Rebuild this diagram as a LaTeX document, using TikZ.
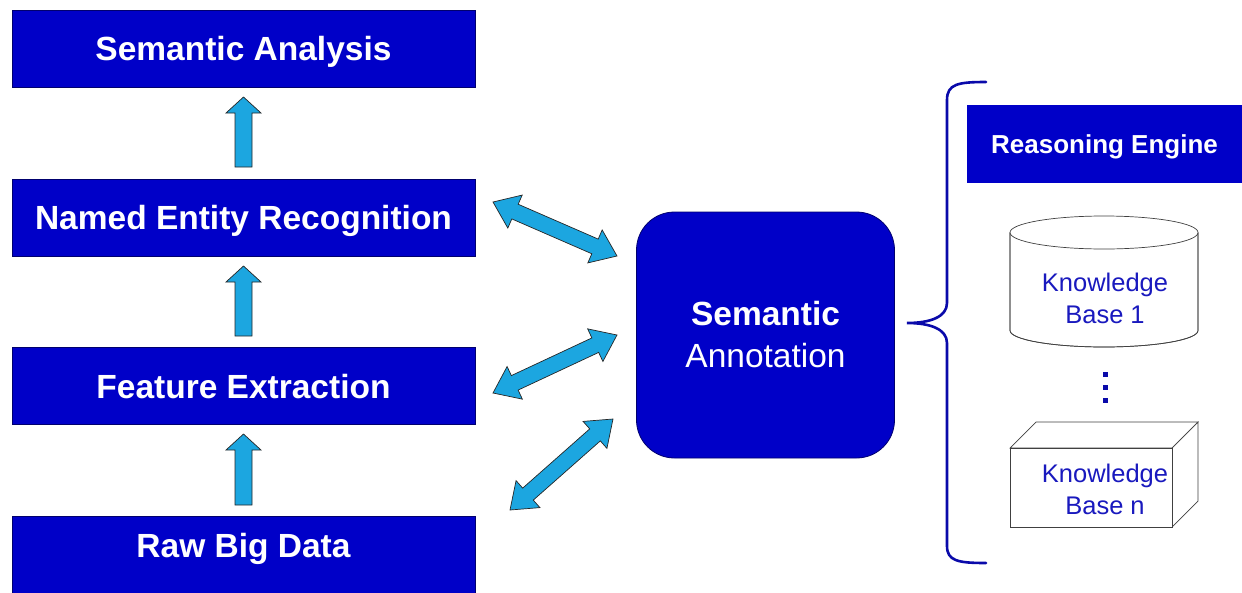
\documentclass[tikz,border=0pt]{standalone}
\usepackage{fontspec}
\setmainfont{Liberation Sans}
\usetikzlibrary{calc}
\definecolor{boxblue}{RGB}{0,0,200}
\definecolor{bracebl}{RGB}{10,10,170}
\definecolor{arrowblue}{RGB}{28,166,224}
\definecolor{kbtext}{RGB}{25,25,190}
\tikzset{
  stage/.style={draw=boxblue!55!black, line width=0.8pt, fill=boxblue, text=white,
    minimum width=463pt, minimum height=77pt, inner sep=0pt, text depth=0pt,
    font=\fontsize{33.5}{38}\selectfont\bfseries},
  uparr/.style={draw=black!85, line width=0.7pt, fill=arrowblue, line join=miter,
    to path={
      -- ($(\tikztostart)!8.5pt!90:(\tikztotarget)$)
      -- ($(\tikztotarget)!16pt!(\tikztostart)!8.5pt!-90:(\tikztostart)$)
      -- ($(\tikztotarget)!16pt!(\tikztostart)!17.5pt!-90:(\tikztostart)$)
      -- (\tikztotarget)
      -- ($(\tikztotarget)!16pt!(\tikztostart)!17.5pt!90:(\tikztostart)$)
      -- ($(\tikztotarget)!16pt!(\tikztostart)!8.5pt!90:(\tikztostart)$)
      -- ($(\tikztostart)!8.5pt!-90:(\tikztotarget)$)
      -- cycle}},
  dblarr/.style={draw=black!85, line width=0.7pt, fill=arrowblue, line join=miter,
    to path={
      -- ($(\tikztostart)!24pt!(\tikztotarget)!18pt!90:(\tikztotarget)$)
      -- ($(\tikztostart)!24pt!(\tikztotarget)!8pt!90:(\tikztotarget)$)
      -- ($(\tikztotarget)!24pt!(\tikztostart)!8pt!-90:(\tikztostart)$)
      -- ($(\tikztotarget)!24pt!(\tikztostart)!18pt!-90:(\tikztostart)$)
      -- (\tikztotarget)
      -- ($(\tikztotarget)!24pt!(\tikztostart)!18pt!90:(\tikztostart)$)
      -- ($(\tikztotarget)!24pt!(\tikztostart)!8pt!90:(\tikztostart)$)
      -- ($(\tikztostart)!24pt!(\tikztotarget)!8pt!-90:(\tikztotarget)$)
      -- ($(\tikztostart)!24pt!(\tikztotarget)!18pt!-90:(\tikztotarget)$)
      -- cycle}},
  kbline/.style={draw=black!75, line width=0.7pt, fill=white},
  kblabel/.style={text=kbtext, align=center, inner sep=0pt,
    font=\fontsize{25.5}{32}\selectfont},
}
\begin{document}
\begin{tikzpicture}[x=1pt, y=-1pt]
\useasboundingbox (0,0) rectangle (1242,592);

% processing pipeline
\node[stage] (sa)  at (243.5,48.5) {Semantic Analysis};
\node[stage] (ner) at (243.5,217.5) {Named Entity Recognition};
\node[stage] (fe)  at (243.5,386) {Feature Extraction};
\node[stage, text depth=19pt] (raw) at (243.5,555) {Raw Big Data};

% upward flow between stages
\coordinate (u1s) at (243.5,167); \coordinate (u1t) at (243.5,97);
\coordinate (u2s) at (243.5,336); \coordinate (u2t) at (243.5,266);
\coordinate (u3s) at (243.5,505); \coordinate (u3t) at (243.5,434);
\draw[uparr] (u1s) to (u1t);
\draw[uparr] (u2s) to (u2t);
\draw[uparr] (u3s) to (u3t);

% annotation hub
\node[draw=boxblue!55!black, line width=0.8pt, fill=boxblue, text=white,
      rounded corners=38pt, minimum width=258pt, minimum height=246pt,
      align=center, font=\fontsize{33.5}{42}\selectfont] (ann) at (765.5,335)
      {\textbf{Semantic}\\Annotation};

% exchanges between the stages and the hub
\coordinate (d1a) at (493,202); \coordinate (d1b) at (617,256);
\coordinate (d2a) at (493,393); \coordinate (d2b) at (617,335);
\coordinate (d3a) at (510,510); \coordinate (d3b) at (613,419);
\draw[dblarr] (d1a) to (d1b);
\draw[dblarr] (d2a) to (d2b);
\draw[dblarr] (d3a) to (d3b);

% curly brace grouping the knowledge side
\coordinate (brtip) at (907,323);
\draw[bracebl, line width=2.6pt, line cap=round]
  (986,82) .. controls (958,82) and (947,84) .. (947,100) -- (947,303)
  .. controls (947,317) and (930,323) .. (brtip)
  .. controls (930,323) and (947,329) .. (947,343) -- (947,546)
  .. controls (947,561) and (958,563) .. (986,563);

% reasoning engine
\node[fill=boxblue, text=white, minimum width=275pt, minimum height=78pt,
      inner sep=0pt, text depth=0pt, font=\fontsize{26}{30}\selectfont\bfseries]
      (re) at (1104.5,144) {Reasoning Engine};

% knowledge base 1 (cylinder)
\path[kbline] (1010,232.5) -- (1010,330.5)
  arc[start angle=180, end angle=360, x radius=94pt, y radius=16.5pt]
  -- (1198,232.5);
\draw[kbline] (1104,232.5) ellipse[x radius=94pt, y radius=16.5pt];
\draw[draw=black!75, line width=0.7pt] (1010,232.5) -- (1010,330.5)
  arc[start angle=180, end angle=360, x radius=94pt, y radius=16.5pt]
  -- (1198,232.5);
\node[kblabel] (kb1) at (1105,298) {Knowledge\\Base 1};

% vertical ellipsis
\foreach \yy/\nm in {374/da,387/db,400/dc}
  \node[fill=bracebl, minimum size=5pt, inner sep=0pt] (\nm) at (1105,\yy) {};

% knowledge base n (box)
\draw[kbline] (1010,448) -- (1036,422) -- (1198,422) -- (1172,448) -- cycle;
\draw[kbline] (1172,448) -- (1198,422) -- (1198,501) -- (1172,527) -- cycle;
\draw[kbline] (1010,448) rectangle (1172,527);
\node[kblabel] (kbn) at (1105,489) {Knowledge\\Base n};
\end{tikzpicture}
\end{document}
